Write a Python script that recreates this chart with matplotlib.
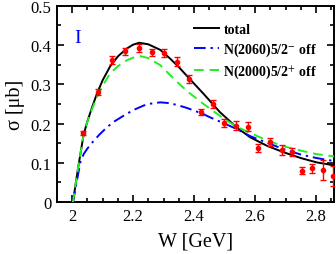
import numpy as np
import matplotlib.pyplot as plt
from matplotlib.ticker import MultipleLocator

plt.rcParams['font.family'] = ['Liberation Serif', 'DejaVu Serif']
plt.rcParams['mathtext.fontset'] = 'stix'

# data points
W = [2.036, 2.086, 2.132, 2.175, 2.219, 2.262, 2.303, 2.343, 2.385, 2.423,
     2.461, 2.499, 2.538, 2.576, 2.611, 2.649, 2.687, 2.720, 2.753, 2.786,
     2.822, 2.857]
sig = [0.175, 0.280, 0.362, 0.384, 0.392, 0.382, 0.379, 0.358, 0.313, 0.229,
       0.249, 0.201, 0.195, 0.192, 0.138, 0.152, 0.133, 0.127, 0.080, 0.086,
       0.082, 0.067]
err = [0.005, 0.008, 0.009, 0.009, 0.010, 0.009, 0.010, 0.012, 0.010, 0.008,
       0.010, 0.010, 0.012, 0.012, 0.010, 0.010, 0.012, 0.011, 0.008, 0.012,
       0.026, 0.025]

# total
Wt = [2.0, 2.003, 2.02, 2.038, 2.05, 2.065, 2.081, 2.1, 2.125, 2.15, 2.179,
      2.2, 2.22, 2.25, 2.289, 2.321, 2.35, 2.376, 2.431, 2.485, 2.54, 2.584,
      2.64, 2.693, 2.75, 2.802, 2.862]
st = [0.0, 0.0, 0.088, 0.172, 0.205, 0.240, 0.275, 0.310, 0.346, 0.371,
      0.391, 0.401, 0.406, 0.402, 0.388, 0.366, 0.344, 0.322, 0.276, 0.229,
      0.190, 0.165, 0.143, 0.127, 0.112, 0.101, 0.093]
# N(2000) off
Wg = [2.0, 2.003, 2.02, 2.038, 2.05, 2.065, 2.081, 2.1, 2.125, 2.15, 2.179,
      2.2, 2.223, 2.25, 2.289, 2.321, 2.35, 2.38, 2.431, 2.463, 2.5, 2.54,
      2.584, 2.64, 2.693, 2.75, 2.802, 2.862]
sg = [0.0, 0.0, 0.088, 0.172, 0.204, 0.236, 0.266, 0.296, 0.328, 0.346,
      0.361, 0.368, 0.372, 0.367, 0.349, 0.324, 0.302, 0.281, 0.250, 0.232,
      0.211, 0.192, 0.176, 0.157, 0.142, 0.131, 0.122, 0.116]
# N(2060) off
Wb = [2.0, 2.003, 2.015, 2.027, 2.038, 2.05, 2.071, 2.09, 2.115, 2.14, 2.169,
      2.2, 2.235, 2.26, 2.289, 2.321, 2.35, 2.376, 2.431, 2.452, 2.5, 2.54,
      2.584, 2.649, 2.693, 2.75, 2.802, 2.862]
sb = [0.0, 0.0, 0.05, 0.101, 0.122, 0.136, 0.156, 0.172, 0.191, 0.206,
      0.220, 0.234, 0.246, 0.251, 0.254, 0.252, 0.246, 0.240, 0.224, 0.216,
      0.200, 0.186, 0.168, 0.148, 0.135, 0.121, 0.112, 0.104]

fig = plt.figure(figsize=(3.36, 2.55), dpi=100)
ax = fig.add_axes([0.170, 0.204, 0.824, 0.769])

ax.plot(Wt, st, color='black', lw=1.4, label='total', zorder=3)
ax.plot(Wb, sb, color='blue', lw=1.4, dashes=(6, 2.5, 1.2, 2.5),
        label='N(2060)5/2$^{-}$ off', zorder=3)
ax.plot(Wg, sg, color='#22ee22', lw=1.4, dashes=(5, 3),
        label='N(2000)5/2$^{+}$ off', zorder=3)
ax.errorbar(W, sig, yerr=err, fmt='o', color='red', ms=3, elinewidth=1,
            capsize=2, capthick=1, zorder=4)

ax.text(2.019, 0.42, 'I', color='blue', fontsize=14, ha='center', va='center')

ax.set_xlim(1.951, 2.859)
ax.set_ylim(0, 0.5)
ax.xaxis.set_minor_locator(MultipleLocator(0.05))
ax.yaxis.set_minor_locator(MultipleLocator(0.05))
ax.set_xticks([2.0, 2.2, 2.4, 2.6, 2.8])
ax.set_xticklabels(['2', '2.2', '2.4', '2.6', '2.8'])
ax.set_yticks([0, 0.1, 0.2, 0.3, 0.4, 0.5])
ax.set_yticklabels(['0', '0.1', '0.2', '0.3', '0.4', '0.5'])
ax.tick_params(which='both', direction='in', top=True, right=True,
               labelsize=12, width=1.2)
ax.tick_params(which='major', length=5, pad=4)
ax.tick_params(which='minor', length=3)
for s in ax.spines.values():
    s.set_linewidth(1.4)

ax.set_xlabel('W [GeV]', fontsize=14.5, labelpad=6)
ax.set_ylabel('σ [μb]', fontsize=14.5, labelpad=4)

leg = ax.legend(loc='upper left', bbox_to_anchor=(0.495, 0.914), frameon=False,
                prop={'weight': 'bold', 'size': 10}, handlelength=1.8,
                handletextpad=0.3, labelspacing=0.35, borderpad=0,
                borderaxespad=0)

fig.savefig('out.png', dpi=100)
